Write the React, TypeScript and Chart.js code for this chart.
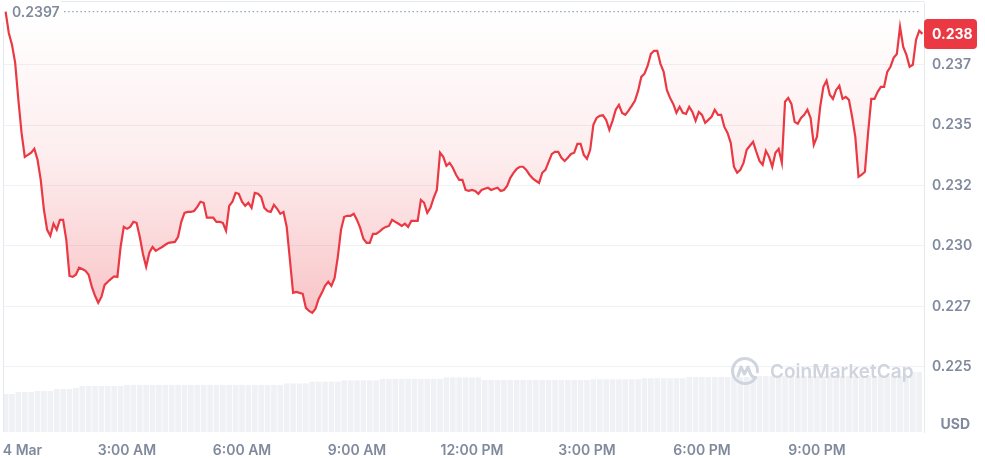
import { useEffect, useRef } from "react";
import { Chart, registerables } from "chart.js";

Chart.register(...registerables);

// ---- data ----
// price samples every 5 minutes, starting 10 minutes before midnight (4 Mar)
const PRICE_START_MIN = -10;
const PRICE_STEP_MIN = 5;
const PRICES = [
  0.2397, 0.23882,
  0.23833, 0.23758, 0.23605, 0.23468, 0.23369, 0.23377, 0.23386, 0.23402, 0.23357, 0.23274, 0.2315, 0.23067,
  0.23042, 0.23092, 0.23067, 0.23108, 0.23108, 0.23025, 0.22876, 0.22872, 0.22881, 0.2291, 0.22905, 0.22897,
  0.22881, 0.22831, 0.22794, 0.22765, 0.22789, 0.22839, 0.22852, 0.22864, 0.22874, 0.22872, 0.22996, 0.23079,
  0.23071, 0.23079, 0.231, 0.23096, 0.23038, 0.22967, 0.22914, 0.22972, 0.22996, 0.2298, 0.22988, 0.22996,
  0.23005, 0.23013, 0.23015, 0.23017, 0.23038, 0.231, 0.23137, 0.23141, 0.23141, 0.23145, 0.23162, 0.23183,
  0.23179, 0.23117, 0.23117, 0.23117, 0.231, 0.231, 0.23096, 0.23063, 0.23166, 0.23183, 0.2322, 0.23216,
  0.23183, 0.23166, 0.23179, 0.23158, 0.2322, 0.23216, 0.23203, 0.23158, 0.23145, 0.23141, 0.2317, 0.23154,
  0.23133, 0.23141, 0.23079, 0.22943, 0.22806, 0.2281, 0.22806, 0.22802, 0.22744, 0.22731, 0.22723, 0.2274,
  0.22781, 0.22806, 0.22835, 0.22852, 0.22835, 0.22868, 0.22955, 0.23067, 0.23121, 0.23125, 0.23125, 0.23133,
  0.23108, 0.23075, 0.2303, 0.23013, 0.23013, 0.2305, 0.2305, 0.23059, 0.23071, 0.23079, 0.23083, 0.23108,
  0.231, 0.23092, 0.23083, 0.23092, 0.23079, 0.23104, 0.23104, 0.23104, 0.23191, 0.23179, 0.23137, 0.23158,
  0.23199, 0.23232, 0.23386, 0.23369, 0.23332, 0.23344, 0.23324, 0.23295, 0.23274, 0.23274, 0.23232, 0.23228,
  0.23232, 0.23228, 0.23216, 0.23232, 0.23237, 0.23241, 0.23232, 0.23237, 0.23241, 0.23228, 0.23232, 0.23249,
  0.23282, 0.23303, 0.23319, 0.23328, 0.23328, 0.23315, 0.23295, 0.2328, 0.2327, 0.23261, 0.23303, 0.23315,
  0.23348, 0.23381, 0.2339, 0.2339, 0.23365, 0.23352, 0.23365, 0.23381, 0.23386, 0.23423, 0.23423, 0.23377,
  0.23361, 0.23398, 0.23502, 0.2353, 0.23539, 0.23541, 0.23522, 0.23481, 0.23518, 0.23564, 0.23584, 0.23551,
  0.23543, 0.2356, 0.2358, 0.23601, 0.23642, 0.237, 0.23713, 0.23746, 0.23795, 0.23808, 0.23808, 0.23754,
  0.23721, 0.23646, 0.23613, 0.23588, 0.23551, 0.23576, 0.23551, 0.23547, 0.23576, 0.23555, 0.23518, 0.23555,
  0.23543, 0.2351, 0.23522, 0.23535, 0.23564, 0.23543, 0.23543, 0.23493, 0.23468, 0.23427, 0.23328, 0.23303,
  0.23315, 0.23344, 0.23398, 0.23415, 0.23431, 0.2339, 0.23352, 0.23336, 0.23394, 0.23369, 0.23328, 0.23386,
  0.23402, 0.23344, 0.23597, 0.23613, 0.23588, 0.23514, 0.23506, 0.2353, 0.23543, 0.23564, 0.2353, 0.23419,
  0.23452, 0.23576, 0.23659, 0.23684, 0.23626, 0.23609, 0.23646, 0.23663, 0.23609, 0.23617, 0.23605, 0.23535,
  0.23452, 0.23286, 0.23295, 0.23307, 0.23468, 0.23609, 0.23609, 0.23638, 0.23659, 0.23659, 0.23721, 0.23742,
  0.23779, 0.23795, 0.23907, 0.23824, 0.23791, 0.23742, 0.2375, 0.23853, 0.23891, 0.23878,
];

// volume samples every 10 minutes (millions USD, 24h rolling)
const VOLUME_START_MIN = -10;
const VOLUME_STEP_MIN = 10;
const VOLUMES = [
  177, 177, 186, 186, 186, 191, 191, 191, 200, 200, 200, 205,
  214, 214, 214, 214, 214, 214, 214, 219, 219, 219, 219, 219,
  219, 219, 219, 219, 219, 219, 219, 219, 219, 219, 219, 219,
  219, 219, 219, 219, 219, 219, 219, 219, 226, 226, 226, 226,
  234, 234, 234, 234, 234, 240, 240, 240, 240, 240, 240, 247,
  247, 247, 247, 247, 247, 247, 247, 247, 247, 254, 254, 254,
  254, 254, 254, 242, 242, 242, 242, 242, 242, 242, 242, 242,
  242, 242, 242, 242, 242, 242, 242, 242, 245, 245, 245, 245,
  245, 245, 245, 245, 250, 250, 250, 250, 250, 250, 250, 256,
  256, 256, 256, 256, 256, 256, 256, 256, 256, 256, 260, 260,
  260, 260, 260, 260, 260, 260, 260, 260, 260, 260, 260, 260,
  260, 260, 260, 260, 260, 260, 260, 260, 260, 260, 280, 280,
];

const X_TICK_MINUTES = [0, 180, 360, 540, 720, 900, 1080, 1260];
const X_TICK_LABELS = ["4 Mar", "3:00 AM", "6:00 AM", "9:00 AM", "12:00 PM", "3:00 PM", "6:00 PM", "9:00 PM"];
const Y_TICKS = [0.225, 0.2275, 0.23, 0.2325, 0.235, 0.2375];
const X_MIN = -12.5;
const X_MAX = 1427.5;
const Y_MIN = 0.2223;
const Y_MAX = 0.2401;
const VOL_MAX = 2000;
const CURRENCY = "USD";
const BRAND = "CoinMarketCap";

// ---- styles ----
const RED = "#ea3943";
const GRAY = "#808a9d";
const GRID = "#eff2f5";
const FRAME = "#e6e9ee";
const VOL_COLOR = "#eff1f5";
const WM_COLOR = "#cfd4de";
const FONT = "Inter";

const trunc3 = (v: number) => (Math.floor(v * 1000 + 1e-7) / 1000).toFixed(3);

function roundRect(ctx: CanvasRenderingContext2D, x: number, y: number, w: number, h: number, r: number) {
  ctx.beginPath();
  ctx.moveTo(x + r, y);
  ctx.lineTo(x + w - r, y);
  ctx.quadraticCurveTo(x + w, y, x + w, y + r);
  ctx.lineTo(x + w, y + h - r);
  ctx.quadraticCurveTo(x + w, y + h, x + w - r, y + h);
  ctx.lineTo(x + r, y + h);
  ctx.quadraticCurveTo(x, y + h, x, y + h - r);
  ctx.lineTo(x, y + r);
  ctx.quadraticCurveTo(x, y, x + r, y);
  ctx.closePath();
}

const decorPlugin = {
  id: "decor",
  beforeDatasetsDraw(chart: any) {
    const { ctx, chartArea: a, scales } = chart;
    const y = scales.y;
    ctx.save();
    // frame (top + left)
    ctx.strokeStyle = FRAME;
    ctx.lineWidth = 1;
    ctx.beginPath();
    ctx.moveTo(a.left - 0.5, a.bottom);
    ctx.lineTo(a.left - 0.5, a.top - 0.5);
    ctx.lineTo(a.right, a.top - 0.5);
    ctx.stroke();
    // open-price dotted line
    const open = PRICES[0];
    const oy = y.getPixelForValue(open);
    ctx.setLineDash([1.5, 2.6]);
    ctx.strokeStyle = "#9aa2b3";
    ctx.lineWidth = 1.3;
    ctx.beginPath();
    ctx.moveTo(a.left + 60, oy);
    ctx.lineTo(a.right - 3, oy);
    ctx.stroke();
    ctx.setLineDash([]);
    // open-price label
    ctx.fillStyle = "#ffffff";
    ctx.fillRect(a.left - 4, 0, 61, oy + 10);
    ctx.fillStyle = GRAY;
    ctx.font = `600 14px ${FONT}`;
    ctx.textAlign = "left";
    ctx.textBaseline = "middle";
    ctx.fillText(open.toFixed(4), a.left + 8, oy + 1);
    ctx.restore();
  },
  afterDatasetsDraw(chart: any) {
    const { ctx, chartArea: a } = chart;
    ctx.save();
    const cx = a.right - 179;
    const cy = a.bottom - 61;
    ctx.strokeStyle = WM_COLOR;
    ctx.lineWidth = 3;
    ctx.lineCap = "round";
    ctx.lineJoin = "round";
    ctx.beginPath();
    ctx.arc(cx, cy, 12.5, 0.18 * Math.PI, 2.02 * Math.PI, false);
    ctx.stroke();
    ctx.beginPath();
    ctx.moveTo(cx - 7, cy + 5);
    ctx.lineTo(cx - 4, cy - 4);
    ctx.lineTo(cx - 0.5, cy + 3);
    ctx.lineTo(cx + 3, cy - 4);
    ctx.lineTo(cx + 5.5, cy + 3);
    ctx.quadraticCurveTo(cx + 8, cy + 7, cx + 10.5, cy + 6.5);
    ctx.stroke();
    ctx.fillStyle = WM_COLOR;
    ctx.font = `600 19px ${FONT}`;
    ctx.textAlign = "left";
    ctx.textBaseline = "middle";
    ctx.fillText(BRAND, cx + 25, cy + 1);
    ctx.restore();
  },
  afterDraw(chart: any) {
    const { ctx, chartArea: a, scales } = chart;
    const y = scales.y;
    ctx.save();
    // last price badge
    const last = PRICES[PRICES.length - 1];
    const py = y.getPixelForValue(last);
    roundRect(ctx, a.right, py - 15, 53, 30, 4);
    ctx.fillStyle = RED;
    ctx.fill();
    ctx.fillStyle = "#ffffff";
    ctx.font = `700 14px ${FONT}`;
    ctx.textAlign = "left";
    ctx.textBaseline = "middle";
    ctx.fillText(trunc3(last), a.right + 8, py + 1);
    // currency label
    ctx.fillStyle = GRAY;
    ctx.font = `700 14px ${FONT}`;
    ctx.textAlign = "right";
    ctx.fillText(CURRENCY, a.right + 46, a.bottom - 7);
    ctx.restore();
  },
};

export default function App() {
  const ref = useRef<HTMLCanvasElement>(null);
  useEffect(() => {
    const canvas = ref.current;
    if (!canvas) return;
    const priceData = PRICES.map((p, i) => ({ x: PRICE_START_MIN + i * PRICE_STEP_MIN, y: p }));
    const volData = VOLUMES.map((v, i) => ({ x: VOLUME_START_MIN + i * VOLUME_STEP_MIN, y: v }));
    const tickFont = { family: FONT, size: 14, weight: "600" as any };
    const chart = new Chart(canvas, {
      type: "line",
      data: {
        datasets: [
          {
            type: "line",
            data: priceData,
            borderColor: RED,
            borderWidth: 2.2,
            pointRadius: 0,
            tension: 0,
            fill: { value: PRICES[0] },
            backgroundColor: (c: any) => {
              const ch = c.chart;
              const a = ch.chartArea;
              if (!a || !ch.scales.y) return "rgba(234,57,67,0.1)";
              const top = ch.scales.y.getPixelForValue(PRICES[0]);
              const g = ch.ctx.createLinearGradient(0, top, 0, a.bottom);
              g.addColorStop(0, "rgba(234,57,67,0)");
              g.addColorStop(0.35, "rgba(234,57,67,0.09)");
              g.addColorStop(1, "rgba(234,57,67,0.45)");
              return g;
            },
            yAxisID: "y",
            order: 0,
          } as any,
          {
            type: "bar",
            data: volData,
            backgroundColor: VOL_COLOR,
            yAxisID: "yv",
            barPercentage: 1,
            categoryPercentage: 0.88,
            order: 1,
          } as any,
        ],
      },
      options: {
        animation: false,
        responsive: true,
        maintainAspectRatio: false,
        layout: { padding: { left: 4, top: 2, right: 0, bottom: 0 } },
        plugins: { legend: { display: false }, tooltip: { enabled: false } },
        scales: {
          x: {
            type: "linear",
            min: X_MIN,
            max: X_MAX,
            offset: false,
            grid: { display: false, offset: false, drawTicks: false },
            border: { display: false },
            afterBuildTicks: (s: any) => {
              s.ticks = X_TICK_MINUTES.map((v) => ({ value: v }));
            },
            afterFit: (s: any) => {
              s.height = 26;
              s.paddingLeft = 0;
              s.paddingRight = 0;
            },
            ticks: {
              autoSkip: false,
              maxRotation: 0,
              padding: 10,
              color: GRAY,
              font: tickFont,
              callback: (_v: any, i: number) => (i === 0 ? "\u2002\u2002\u2002" : "") + X_TICK_LABELS[i],
            },
          },
          y: {
            position: "right",
            min: Y_MIN,
            max: Y_MAX,
            afterBuildTicks: (s: any) => {
              s.ticks = Y_TICKS.map((v) => ({ value: v }));
            },
            afterFit: (s: any) => {
              s.width = 61;
              s.paddingTop = 0;
              s.paddingBottom = 0;
            },
            grid: { color: GRID, drawTicks: false },
            border: { display: true, color: FRAME },
            ticks: {
              padding: 8,
              color: GRAY,
              font: tickFont,
              callback: (v: any) => trunc3(Number(v)),
            },
          },
          yv: { display: false, min: 0, max: VOL_MAX },
        },
      } as any,
      plugins: [decorPlugin],
    });
    return () => chart.destroy();
  }, []);
  return (
    <div style={{ position: "fixed", left: 0, top: 0, width: 985, height: 458, background: "#fff" }}>
      <canvas ref={ref} />
    </div>
  );
}
